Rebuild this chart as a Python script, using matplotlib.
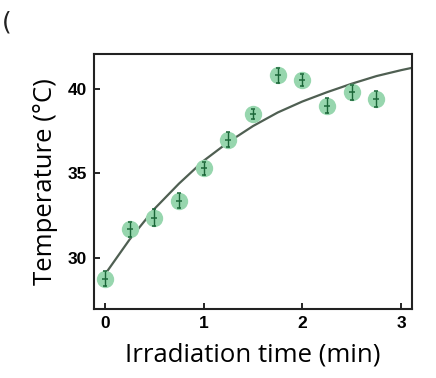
import numpy as np
import matplotlib
matplotlib.use('Agg')
import matplotlib.pyplot as plt

# Измеренные точки
time_pts = [0, 0.25, 0.5, 0.75, 1.0, 1.25, 1.5, 1.75, 2.0, 2.25, 2.5, 2.75]
temp_pts = [28.8, 31.7, 32.4, 33.4, 35.3, 37.0, 38.5, 40.8, 40.5, 39.0, 39.8, 39.4]
temp_err = [0.45, 0.45, 0.5, 0.45, 0.4, 0.45, 0.3, 0.45, 0.35, 0.45, 0.45, 0.45]

# Линия аппроксимации
fit_t = [0.02, 0.25, 0.5, 0.75, 1.0, 1.25, 1.5, 1.75, 2.0, 2.25, 2.5, 2.75, 3.0, 3.12]
fit_T = [29.2, 31.1, 32.9, 34.4, 35.75, 36.85, 37.8, 38.6, 39.25, 39.8, 40.3, 40.75, 41.1, 41.25]

fig = plt.figure(figsize=(4.36, 3.78), dpi=100)
ax = fig.add_axes([0.2156, 0.1825, 0.7294, 0.6745])

ax.plot(fit_t, fit_T, color='#4f5f52', lw=1.6, zorder=2)
ax.plot(time_pts, temp_pts, 'o', ms=12.5, color='#97d6ae', mec='none', zorder=3)
ax.errorbar(time_pts, temp_pts, yerr=temp_err, fmt='_', ms=5, mew=1.1,
            color='#1a6638', ecolor='#1a6638',
            elinewidth=1.0, capsize=1.5, capthick=1.0, zorder=4)

ax.set_xlim(-0.11, 3.11)
ax.set_ylim(27.0, 42.05)
ax.set_xticks([0, 1, 2, 3])
ax.set_yticks([30, 35, 40])
ax.tick_params(direction='in', length=4, width=1.2, labelsize=12.5, pad=5)
for lab in ax.get_xticklabels() + ax.get_yticklabels():
    lab.set_fontweight('bold')
    lab.set_family('Liberation Sans')
for s in ax.spines.values():
    s.set_linewidth(1.5)
    s.set_color('#222222')

ax.set_xlabel('Irradiation time (min)', fontsize=18.5, family='Open Sans', labelpad=8)
ax.set_ylabel('Temperature (°C)', fontsize=18.5, family='Open Sans', labelpad=7)

fig.text(0.005, 0.94, '(', fontsize=18, color='#222222', va='center')

fig.savefig('out.png', dpi=100)
